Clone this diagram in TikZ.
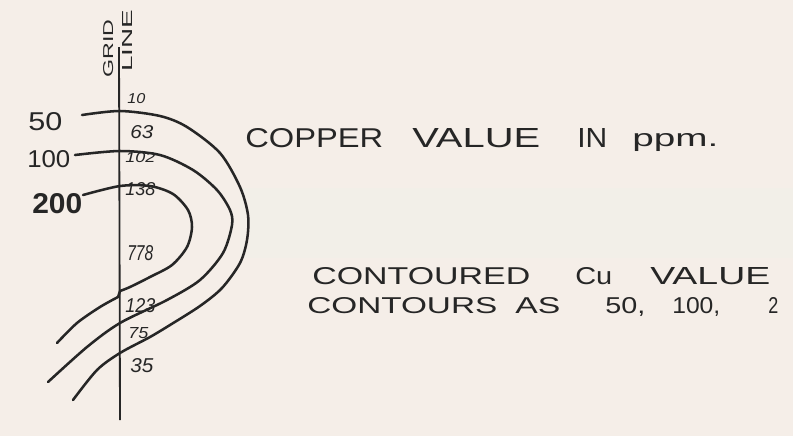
\documentclass[tikz,border=0pt]{standalone}
\usepackage{fontspec}
\setmainfont{Liberation Sans}
\usepackage{graphicx}
\usetikzlibrary{positioning}
\definecolor{PaperCream}{HTML}{F5EEE8}
\definecolor{ScanBand}{HTML}{F2EFE8}
\definecolor{InkGrey}{HTML}{262626}
\newlength{\pxu}
\setlength{\pxu}{0.025cm}
\newcommand{\hw}[3]{\resizebox{#1\pxu}{#2\pxu}{#3}}

\begin{document}
\begin{tikzpicture}[x=\pxu, y=-\pxu,
  word/.style={anchor=base west, inner sep=0pt, text=InkGrey},
  contour/.style={InkGrey, line width=1.8pt, line cap=round, line join=round},
  gridline/.style={InkGrey, line width=1.3pt}]
  \fill[PaperCream] (0,0) rectangle (793,436);
  \fill[ScanBand] (240,188) rectangle (793,258);

  % grid line and its title
  \coordinate (gtop) at (119,47);
  \coordinate (gbot) at (120,420);
  \draw[gridline] (gtop) -- (gbot);
  \node[word, rotate=90] (grid) at (113,78) {\hw{58}{10}{GRID}};
  \node[word, rotate=90] (line) at (132,72) {\hw{62}{10}{LINE}};

  % copper values along the line
  \node[word] (v10)  at (127,103) {\hw{18}{10}{\itshape 10}};
  \node[word] (v63)  at (130,138) {\hw{23}{13}{\itshape 63}};
  \node[word] (v102) at (125,162) {\hw{30}{10}{\itshape 102}};
  \node[word] (v138) at (125,195) {\hw{30}{13}{\itshape 138}};
  \node[word] (v778) at (127,260) {\hw{26}{15}{\itshape 778}};
  \node[word] (v123) at (125,312) {\hw{30}{14}{\itshape 123}};
  \node[word] (v75)  at (128,338) {\hw{20}{11}{\itshape 75}};
  \node[word] (v35)  at (130,372) {\hw{23}{14}{\itshape 35}};

  % contour labels
  \node[word] (c50)  at (28,130) {\hw{34}{18}{50}};
  \node[word] (c100) at (27,167) {\hw{43}{17}{100}};
  \node[word] (c200) at (32,213) {\hw{50}{20}{\bfseries 200}};

  % contours
  \draw[contour] plot[smooth] coordinates {(82,115) (120,111) (160,116) (187,127) (220,153)
    (240,187) (248,215) (247,240) (240,263) (222,288) (200,306) (170,325) (150,337)
    (120,353) (97,370) (73,400)};
  \draw[contour] plot[smooth] coordinates {(75,155) (120,151) (160,155) (193,170) (217,190)
    (230,210) (232,225) (223,253) (200,280) (167,300) (120,323) (87,347) (48,382)};
  \draw[contour] plot[smooth] coordinates {(83,195) (120,186) (150,186) (173,194) (188,210)
    (192,227) (187,247) (172,265) (150,277) (130,287) (120,291)}
    -- plot[smooth] coordinates {(118,297) (100,307) (77,323) (57,343)};

  % notes
  \node[word] (n1a) at (245,147) {\hw{138}{19}{COPPER}};
  \node[word] (n1b) at (412,147) {\hw{128}{19}{VALUE}};
  \node[word] (n1c) at (577,147) {\hw{30}{19}{IN}};
  \node[word] (n1d) at (632,146) {\hw{86}{13}{ppm.}};

  \node[word] (n2a) at (312,284) {\hw{218}{17}{CONTOURED}};
  \node[word] (n2b) at (575,284) {\hw{37}{17}{Cu}};
  \node[word] (n2c) at (650,284) {\hw{120}{17}{VALUE}};

  \node[word] (n3a) at (307,313) {\hw{190}{16}{CONTOURS}};
  \node[word] (n3b) at (515,313) {\hw{45}{16}{AS}};
  \node[word] (n3c) at (605,313) {\hw{40}{16}{50,}};
  \node[word] (n3d) at (672,313) {\hw{48}{16}{100,}};
  \node[word] (n3e) at (768,313) {\hw{10}{16}{2}};
\end{tikzpicture}
\end{document}
